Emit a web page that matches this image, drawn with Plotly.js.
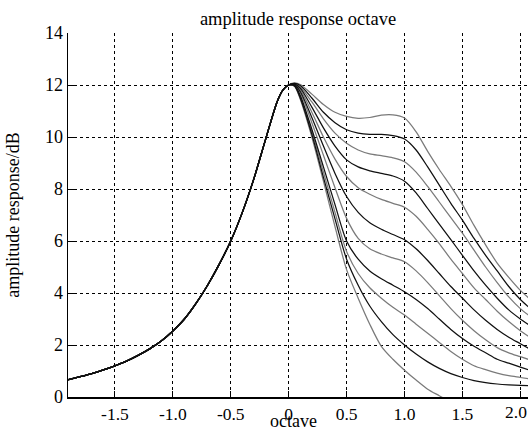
<!DOCTYPE html>
<html>
<head>
<meta charset="utf-8">
<script src="https://cdn.plot.ly/plotly-3.0.1.min.js"></script>
<style>
  html, body { margin: 0; padding: 0; background: #ffffff; }
  #chart { width: 528px; height: 432px; }
</style>
</head>
<body>
<div id="chart"></div>
<script>
// Shared left-hand side (all curves coincide below the peak)
const octaveLeft = [-1.95, -1.9, -1.8, -1.7, -1.6, -1.5, -1.4, -1.3, -1.2, -1.1, -1.0, -0.9, -0.8, -0.7, -0.6, -0.5, -0.4, -0.3, -0.2, -0.1, -0.05];
const ampLeft    = [0.62, 0.67, 0.78, 0.90, 1.04, 1.20, 1.38, 1.60, 1.85, 2.15, 2.54, 3.00, 3.60, 4.30, 5.10, 6.00, 7.10, 8.40, 9.90, 11.35, 11.80];

// Right-hand side sample positions
const octaveRight = [0, 0.05, 0.1, 0.2, 0.3, 0.4, 0.5, 0.6, 0.7, 0.8, 0.9, 1.0, 1.1, 1.2, 1.3, 1.4, 1.5, 1.6, 1.7, 1.8, 1.9, 2.0, 2.1];

// Right-hand side of each curve (top to bottom)
const curve1  = [12.0, 12.08, 12.02, 11.65, 11.25, 10.95, 10.79, 10.72, 10.75, 10.84, 10.85, 10.73, 10.20, 9.45, 8.75, 8.10, 7.40, 6.60, 5.85, 5.15, 4.60, 4.10, 3.70];
const curve2  = [12.0, 12.06, 11.98, 11.50, 10.95, 10.55, 10.28, 10.15, 10.10, 10.10, 10.05, 9.92, 9.50, 8.85, 8.15, 7.45, 6.80, 6.10, 5.45, 4.85, 4.25, 3.75, 3.35];
const curve3  = [12.0, 12.05, 11.92, 11.35, 10.70, 10.15, 9.76, 9.50, 9.35, 9.28, 9.20, 9.05, 8.65, 8.10, 7.50, 6.90, 6.30, 5.65, 5.00, 4.40, 3.85, 3.40, 3.05];
const curve4  = [12.0, 12.04, 11.88, 11.15, 10.35, 9.65, 9.12, 8.85, 8.70, 8.60, 8.50, 8.30, 7.85, 7.25, 6.65, 6.05, 5.45, 4.85, 4.30, 3.80, 3.35, 3.00, 2.70];
const curve5  = [12.0, 12.03, 11.82, 10.95, 10.00, 9.15, 8.48, 8.05, 7.80, 7.60, 7.45, 7.30, 6.95, 6.45, 5.90, 5.30, 4.75, 4.20, 3.75, 3.30, 2.90, 2.55, 2.25];
const curve6  = [12.0, 12.02, 11.75, 10.75, 9.65, 8.60, 7.71, 7.10, 6.70, 6.45, 6.25, 6.05, 5.70, 5.25, 4.75, 4.25, 3.80, 3.35, 2.95, 2.60, 2.30, 2.05, 1.80];
const curve7  = [12.0, 12.00, 11.70, 10.55, 9.30, 8.05, 6.87, 6.10, 5.70, 5.50, 5.35, 5.20, 4.85, 4.40, 3.90, 3.40, 2.95, 2.55, 2.20, 1.90, 1.70, 1.55, 1.40];
const curve8  = [12.0, 11.98, 11.60, 10.30, 8.85, 7.40, 6.00, 5.30, 4.85, 4.55, 4.30, 4.05, 3.75, 3.40, 3.00, 2.60, 2.25, 1.95, 1.70, 1.45, 1.30, 1.15, 1.00];
const curve9  = [12.0, 11.97, 11.55, 10.20, 8.65, 7.10, 5.60, 4.75, 4.20, 3.80, 3.45, 3.15, 2.80, 2.45, 2.10, 1.75, 1.45, 1.20, 1.05, 0.92, 0.82, 0.75, 0.68];
const curve10 = [12.0, 11.96, 11.50, 10.10, 8.45, 6.85, 5.30, 4.30, 3.50, 2.90, 2.40, 2.00, 1.65, 1.35, 1.10, 0.90, 0.75, 0.63, 0.55, 0.50, 0.47, 0.45, 0.43];
const curve11 = [12.0, 11.95, 11.45, 10.00, 8.30, 6.55, 4.90, 3.80, 2.80, 1.95, 1.45, 1.03, 0.65, 0.30, 0.05, -0.20, -0.40, -0.55, -0.65, -0.72, -0.78, -0.80, -0.80];

const curves = [curve1, curve2, curve3, curve4, curve5, curve6, curve7, curve8, curve9, curve10, curve11];
const lineColors = ['#7a7a7a', '#101010', '#7a7a7a', '#101010', '#7a7a7a', '#101010', '#7a7a7a', '#101010', '#7a7a7a', '#101010', '#7a7a7a'];

// x tick labels; the last one ("2.0") sits at the right edge and is placed as an annotation
const xTickVals = [-1.5, -1.0, -0.5, 0, 0.5, 1.0, 1.5, 2.0];
const xTickText = ['-1.5', '-1.0', '-0.5', '0', '0.5', '1.0', '1.5', ''];
const lastTickVal = 2.0;
const lastTickText = '2.0';
const yTickVals = [0, 2, 4, 6, 8, 10, 12, 14];
const xTitleText = 'octave';

// draw gray curves first, black ones on top
const order = [0, 2, 4, 6, 8, 10, 1, 3, 5, 7, 9];
const traces = order.map(i => ({
  type: 'scatter',
  mode: 'lines',
  x: octaveLeft.concat(octaveRight),
  y: ampLeft.concat(curves[i]),
  line: { color: lineColors[i], width: 1.25, shape: 'spline', smoothing: 0.8 },
  hoverinfo: 'skip',
  showlegend: false
}));

const fontFam = '"Liberation Serif", "Times New Roman", serif';

const layout = {
  width: 528,
  height: 432,
  margin: { l: 68, r: 0, t: 33, b: 35, pad: 0 },
  paper_bgcolor: '#ffffff',
  plot_bgcolor: '#ffffff',
  font: { family: fontFam, size: 18, color: '#000000' },
  title: {
    text: 'amplitude response octave',
    font: { family: fontFam, size: 18.5, color: '#000000' },
    xref: 'paper', x: 0.5, xanchor: 'center',
    yref: 'container', y: 0.958, yanchor: 'middle'
  },
  xaxis: {
    range: [-1.905, 2.066],
    tickmode: 'array',
    tickvals: xTickVals,
    ticktext: xTickText,
    ticks: 'inside',
    ticklen: 6,
    tickcolor: '#000000',
    showline: true,
    linecolor: '#000000',
    linewidth: 1.5,
    mirror: false,
    showgrid: true,
    gridcolor: '#000000',
    gridwidth: 1,
    griddash: '3px,3px',
    zeroline: false,
    tickfont: { family: fontFam, size: 17.5, color: '#000000' },
    automargin: false,
    fixedrange: true
  },
  yaxis: {
    range: [0, 14],
    tickmode: 'array',
    tickvals: yTickVals,
    ticks: 'inside',
    ticklen: 6,
    tickcolor: '#000000',
    showline: true,
    linecolor: '#000000',
    linewidth: 1.5,
    mirror: false,
    showgrid: true,
    gridcolor: '#000000',
    gridwidth: 1,
    griddash: '3px,3px',
    zeroline: false,
    tickfont: { family: fontFam, size: 18, color: '#000000' },
    title: { text: 'amplitude response/dB', font: { family: fontFam, size: 18, color: '#000000' }, standoff: 20 },
    automargin: false,
    fixedrange: true
  },
  annotations: [
    {
      text: lastTickText,
      xref: 'x', x: lastTickVal, xanchor: 'right', xshift: 9,
      yref: 'paper', y: 0, yanchor: 'top', yshift: -3,
      showarrow: false,
      font: { family: fontFam, size: 17.5, color: '#000000' }
    },
    {
      text: xTitleText,
      xref: 'paper', x: 0.49, xanchor: 'center',
      yref: 'paper', y: -35 / 364, yanchor: 'bottom', yshift: 0, borderpad: 0,
      showarrow: false,
      font: { family: fontFam, size: 18, color: '#000000' }
    }
  ]
};

Plotly.newPlot('chart', traces, layout, { displayModeBar: false, staticPlot: true });
</script>
</body>
</html>
